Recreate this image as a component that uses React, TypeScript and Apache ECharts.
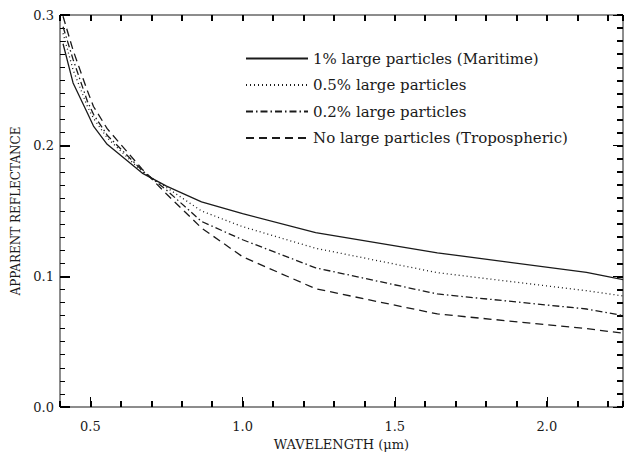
import React, { useEffect, useRef } from 'react';
import * as echarts from 'echarts';

const wavelengths = [0.41, 0.443, 0.49, 0.51, 0.555, 0.67, 0.75, 0.865, 1.0, 1.24, 1.64, 2.13, 2.25];
const maritime = [0.278, 0.248, 0.225, 0.215, 0.201, 0.179, 0.169, 0.157, 0.148, 0.1335, 0.118, 0.103, 0.0975];
const halfPct = [0.286, 0.258, 0.23, 0.221, 0.206, 0.18, 0.168, 0.15, 0.138, 0.1215, 0.1028, 0.089, 0.085];
const fifthPct = [0.291, 0.266, 0.234, 0.224, 0.208, 0.181, 0.166, 0.142, 0.128, 0.1065, 0.0865, 0.075, 0.07];
const tropo = [0.299, 0.273, 0.242, 0.23, 0.213, 0.182, 0.163, 0.137, 0.115, 0.0905, 0.0712, 0.06, 0.0565];

const seriesNames = [
  '1% large particles (Maritime)',
  '0.5% large particles',
  '0.2% large particles',
  'No large particles (Tropospheric)',
];
const xMajorTicks = [0.5, 1.0, 1.5, 2.0];

export default function App() {
  const ref = useRef<HTMLDivElement>(null);
  useEffect(() => {
    const chart = echarts.init(ref.current!, null, { renderer: 'svg' });
    const font = 'DejaVu Serif';
    const ink = '#1a1a1a';
    const mk = (name: string, vals: number[], type: any, width: number) => ({
      name,
      type: 'line',
      data: wavelengths.map((w, i) => [w, vals[i]]),
      symbol: 'none',
      showSymbol: false,
      xAxisIndex: 0,
      yAxisIndex: 0,
      lineStyle: { color: ink, width, type },
      itemStyle: { color: ink },
      z: 3,
    });
    const noLabel = { show: false };
    const tick = (length: number, width: number) => ({ show: true, length, lineStyle: { color: '#000', width } });
    const xBase = { type: 'value', min: 0.4, max: 2.25 };
    const yBase = { type: 'value', min: 0, max: 0.3 };
    const xTicks = (position: string, offset: number, length: number, width: number, interval: number) => ({
      ...xBase,
      position,
      offset,
      interval,
      splitLine: { show: false },
      axisLine: { show: false, onZero: false },
      axisLabel: noLabel,
      axisTick: tick(length, width),
    });
    const yTicks = (position: string, offset: number, length: number, width: number, interval: number) => ({
      ...yBase,
      position,
      offset,
      interval,
      splitLine: { show: false },
      axisLine: { show: false, onZero: false },
      axisLabel: noLabel,
      axisTick: tick(length, width),
    });
    chart.setOption({
      animation: false,
      grid: {
        left: 60,
        right: 1,
        top: 15,
        bottom: 41,
        containLabel: false,
        show: true,
        borderColor: ink,
        borderWidth: 1,
        backgroundColor: 'transparent',
      },
      legend: {
        orient: 'vertical',
        left: 245,
        top: 51,
        itemWidth: 62,
        itemHeight: 14,
        itemGap: 11.5,
        padding: 0,
        data: seriesNames,
        itemStyle: { opacity: 0 },
        textStyle: { fontFamily: font, fontSize: 15, color: ink },
      },
      xAxis: [
        {
          ...xBase,
          position: 'bottom',
          interval: 0.1,
          splitLine: { show: false },
          axisLine: { show: false, onZero: false },
          axisTick: { show: false },
          axisLabel: {
            formatter: (v: number) => {
              const r = Math.round(v * 10);
              return r % 5 === 0 && r >= 5 && r <= 20 ? (r / 10).toFixed(1) : '';
            },
            color: ink,
            fontFamily: font,
            fontSize: 13,
            margin: 13,
          },
          name: 'WAVELENGTH (\u03bcm)',
          nameLocation: 'middle',
          nameGap: 31,
          nameTextStyle: { fontFamily: font, fontSize: 13, color: ink },
        },
        xTicks('bottom', -6, 6, 2, 0.1),
        {
          ...xTicks('bottom', -10, 10, 1, 0.1),
          axisTick: { ...tick(10, 1), customValues: xMajorTicks },
        },
        xTicks('top', -6, 6, 2, 0.1),
      ],
      yAxis: [
        {
          ...yBase,
          position: 'left',
          interval: 0.1,
          splitLine: { show: false },
          axisLine: { show: false, onZero: false },
          axisTick: { show: false },
          axisLabel: {
            formatter: (v: number) => v.toFixed(1),
            color: ink,
            fontFamily: font,
            fontSize: 13,
            margin: 6,
          },
          name: 'APPARENT REFLECTANCE',
          nameLocation: 'middle',
          nameGap: 37,
          nameTextStyle: { fontFamily: font, fontSize: 12, color: ink },
        },
        yTicks('left', -5, 5, 1, 0.01),
        yTicks('left', -10, 10, 2, 0.1),
        yTicks('right', -6, 6, 2, 0.01),
        yTicks('right', -10, 10, 1, 0.1),
      ],
      series: [
        mk(seriesNames[0], maritime, 'solid', 1.3),
        mk(seriesNames[1], halfPct, [1, 3], 1.3),
        mk(seriesNames[2], fifthPct, [7, 3, 1.5, 3], 1.3),
        mk(seriesNames[3], tropo, [8, 5], 1.3),
      ],
    });
    return () => chart.dispose();
  }, []);
  return (
    <div
      ref={ref}
      style={{ position: 'fixed', left: 0, top: 0, width: 626, height: 456, background: '#fff' }}
    />
  );
}
